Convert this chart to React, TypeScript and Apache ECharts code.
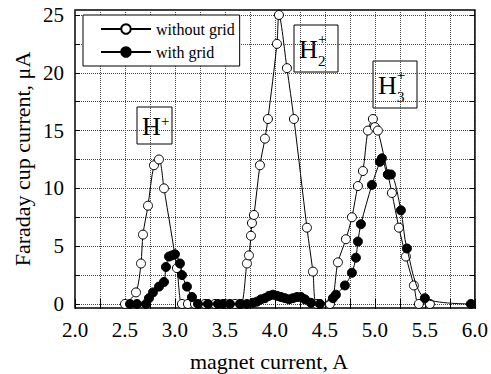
import React, { useEffect, useRef } from "react";
import * as echarts from "echarts";

const seriesNames = ["without grid", "with grid"];

const withoutGridX = [2.50, 2.61, 2.66, 2.68, 2.73, 2.79, 2.84, 2.89, 3.02, 3.07, 3.13, 3.20, 3.30, 3.40, 3.50, 3.60, 3.66, 3.72, 3.74, 3.76, 3.77, 3.79, 3.85, 3.90, 3.93, 4.02, 4.04, 4.12, 4.19, 4.32, 4.38, 4.42, 4.55, 4.63, 4.71, 4.77, 4.83, 4.88, 4.93, 4.98, 5.00, 5.03, 5.13, 5.17, 5.24, 5.31, 5.39, 5.44, 5.55];
const withoutGridY = [0, 1.0, 3.5, 6.0, 8.5, 12.0, 12.5, 10.0, 3.1, 0, 0, 0, 0, 0, 0, 0, 0, 3.5, 4.2, 5.9, 7.0, 7.7, 12.0, 14.3, 16.0, 22.5, 25.0, 20.4, 16.0, 6.6, 2.8, 0, 0, 3.6, 5.6, 7.5, 10.2, 11.5, 15.0, 16.0, 15.3, 15.0, 11.2, 9.6, 6.6, 4.1, 1.6, 0, 0];

const withGridX = [2.55, 2.62, 2.71, 2.74, 2.78, 2.84, 2.89, 2.91, 2.94, 2.97, 3.00, 3.05, 3.07, 3.12, 3.17, 3.23, 3.33, 3.43, 3.48, 3.55, 3.65, 3.72, 3.78, 3.82, 3.86, 3.90, 3.94, 3.98, 4.02, 4.06, 4.10, 4.14, 4.18, 4.22, 4.26, 4.30, 4.36, 4.45, 4.58, 4.61, 4.70, 4.77, 4.81, 4.83, 4.86, 4.97, 5.05, 5.07, 5.13, 5.16, 5.26, 5.32, 5.50, 5.96];
const withGridY = [0, 0, 0, 0.5, 1.0, 1.5, 1.9, 3.2, 4.1, 4.2, 4.3, 3.5, 2.5, 1.5, 0.6, 0, 0, 0, 0, 0, 0, 0, 0.1, 0.2, 0.4, 0.5, 0.7, 0.8, 0.7, 0.6, 0.5, 0.4, 0.5, 0.6, 0.6, 0.4, 0.1, 0, 0.5, 0.8, 1.6, 2.7, 4.0, 5.4, 6.9, 10.3, 12.3, 12.6, 11.2, 11.2, 8.1, 4.8, 0.5, 0];

const yTickValues = [0, 2.5, 5, 7.5, 10, 12.5, 15, 17.5, 20, 22.5, 25];
const yLabelValues = [0, 5, 10, 15, 20, 25];

const xTitle = "magnet current, A";
const yTitle = "Faraday cup current, μA";

const FONT = "Liberation Serif";

function peakLabel(x: number, y: number, w: number, h: number, sub: string) {
  const children: any[] = [
    { type: "rect", shape: { x: 0, y: 0, width: w, height: h }, style: { fill: "#fff", stroke: "#000", lineWidth: 1 } },
    { type: "text", x: 5, y: h / 2 + 1, style: { text: "H", fontSize: 26, fontFamily: FONT, fill: "#000", align: "left", verticalAlign: "middle" } },
    { type: "text", x: 24, y: 14, style: { text: "+", fontSize: 15, fontFamily: FONT, fill: "#000", align: "left", verticalAlign: "middle" } },
  ];
  if (sub) {
    children.push({ type: "text", x: 24, y: h - 11, style: { text: sub, fontSize: 15, fontFamily: FONT, fill: "#000", align: "left", verticalAlign: "middle" } });
  }
  return { type: "group", x, y, z: 100, children };
}

export default function App() {
  const ref = useRef<HTMLDivElement>(null);
  useEffect(() => {
    if (!ref.current) return;
    const chart = echarts.init(ref.current, undefined, { renderer: "svg" });
    const dotted = { show: true, lineStyle: { type: "dotted" as const, color: "#444", width: 1 } };
    const xLabelFmt = (v: number) => (Math.abs(v * 2 - Math.round(v * 2)) < 1e-6 ? v.toFixed(1) : "");
    chart.setOption({
      animation: false,
      backgroundColor: "#fff",
      textStyle: { fontFamily: FONT },
      grid: { left: 75, right: 16, top: 10, bottom: 66, show: true, borderColor: "#000", borderWidth: 1.5, backgroundColor: "transparent" },
      legend: {
        data: seriesNames,
        orient: "vertical",
        left: 83,
        top: 15,
        padding: [6, 5, 6, 17],
        itemGap: 7,
        itemWidth: 50,
        itemHeight: 12,
        backgroundColor: "#fff",
        borderColor: "#000",
        borderWidth: 1,
        textStyle: { fontSize: 16, fontFamily: FONT, color: "#000" },
      },
      xAxis: [
        {
          type: "value", min: 2, max: 6, interval: 0.25, position: "bottom",
          axisLine: { show: false },
          axisTick: { show: true, inside: true, length: 5, lineStyle: { color: "#000", width: 1 } },
          axisLabel: { formatter: xLabelFmt, fontSize: 21, fontFamily: FONT, color: "#000", margin: 11, showMinLabel: true, showMaxLabel: true },
          splitLine: dotted,
        },
        {
          type: "value", min: 2, max: 6, interval: 0.25, position: "top",
          axisLine: { show: false },
          axisTick: { show: true, inside: true, length: 5, lineStyle: { color: "#000", width: 1 } },
          axisLabel: { show: false },
          splitLine: { show: false },
        },
      ],
      yAxis: [
        {
          type: "value", min: -0.35, max: 25.43, position: "left",
          axisLine: { show: false },
          axisTick: { show: true, inside: true, length: 5, customValues: yTickValues, lineStyle: { color: "#000", width: 1 } },
          axisLabel: { customValues: yLabelValues, fontSize: 21, fontFamily: FONT, color: "#000", margin: 11 },
          splitLine: dotted,
        },
        {
          type: "value", min: -0.35, max: 25.43, position: "right",
          axisLine: { show: false },
          axisTick: { show: true, inside: true, length: 5, customValues: yTickValues, lineStyle: { color: "#000", width: 1 } },
          axisLabel: { show: false },
          splitLine: { show: false },
        },
      ],
      series: [
        {
          name: seriesNames[0], type: "line", smooth: 0.3, xAxisIndex: 0, yAxisIndex: 0,
          data: withoutGridX.map((x, i) => [x, withoutGridY[i]]),
          symbol: "circle", symbolSize: 9, showAllSymbol: true,
          lineStyle: { color: "#000", width: 1 },
          itemStyle: { color: "#fff", borderColor: "#000", borderWidth: 1 },
          z: 3,
        },
        {
          name: seriesNames[1], type: "line", smooth: 0.3, xAxisIndex: 0, yAxisIndex: 0,
          data: withGridX.map((x, i) => [x, withGridY[i]]),
          symbol: "circle", symbolSize: 9, showAllSymbol: true,
          lineStyle: { color: "#000", width: 1 },
          itemStyle: { color: "#000", borderColor: "#000", borderWidth: 1 },
          z: 4,
        },
      ],
      graphic: [
        { type: "text", x: 269, y: 361, style: { text: xTitle, fontSize: 22, fontFamily: FONT, fill: "#000", align: "center", verticalAlign: "middle" } },
        { type: "text", x: 22, y: 159, rotation: Math.PI / 2, style: { text: yTitle, fontSize: 22, fontFamily: FONT, fill: "#000", align: "center", verticalAlign: "middle" } },
        peakLabel(137, 107, 35, 37, ""),
        peakLabel(294, 25, 44, 47, "2"),
        peakLabel(373, 61, 44, 47, "3"),
      ],
    });
    return () => chart.dispose();
  }, []);
  return <div ref={ref} style={{ width: 491, height: 374, position: "absolute", left: 0, top: 0 }} />;
}
